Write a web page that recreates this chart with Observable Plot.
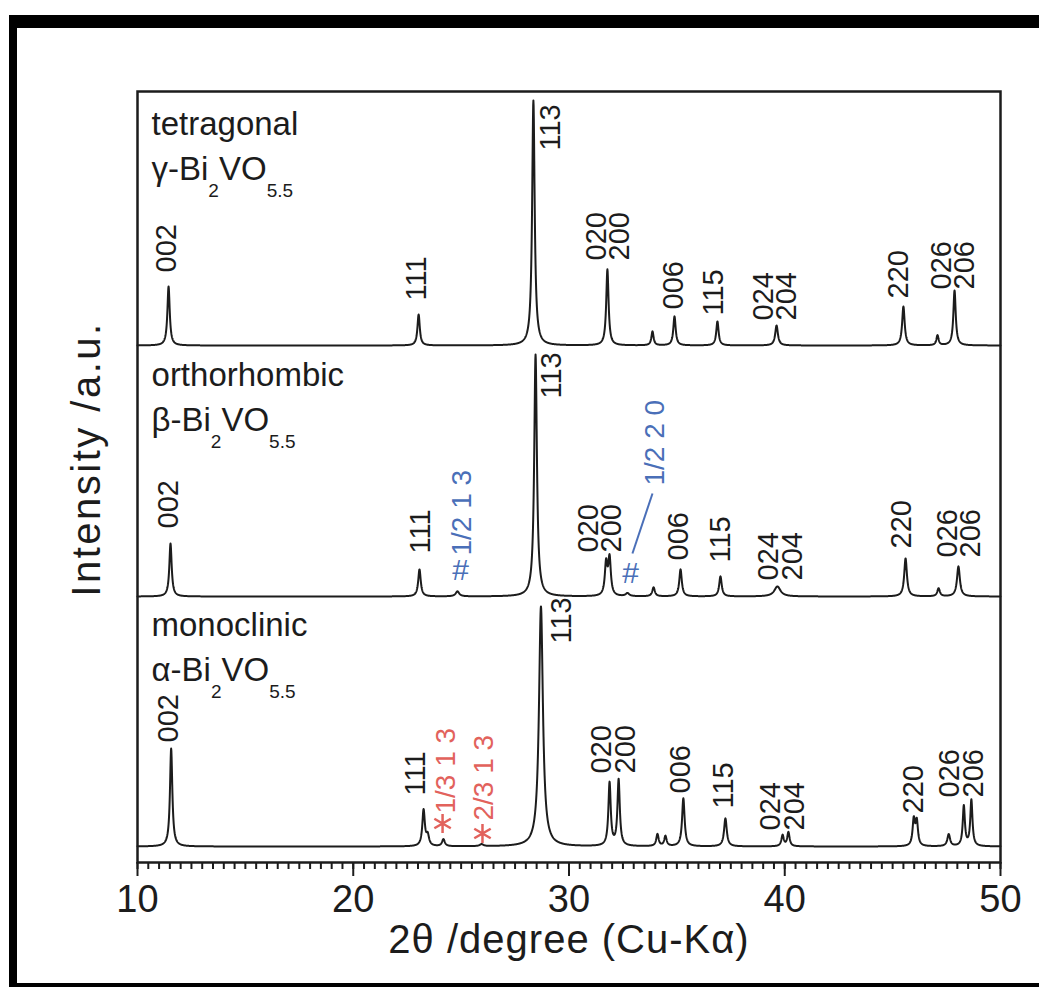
<!DOCTYPE html>
<html><head><meta charset="utf-8">
<script src="https://cdn.jsdelivr.net/npm/d3@7"></script>
<script src="https://cdn.jsdelivr.net/npm/@observablehq/plot@0.6"></script>
<style>
body{margin:0;background:#fff;}
#wrap{position:relative;width:1039px;height:987px;overflow:hidden;background:#fff;}
#border{position:absolute;left:9px;top:15px;width:1100px;height:972px;box-sizing:border-box;border-top:13px solid #000;border-left:8px solid #000;border-bottom:4px solid #000;pointer-events:none;}
#chart{position:absolute;left:0;top:0;}
</style></head><body>
<div id="wrap"><div id="chart"></div><div id="border"></div></div>
<script>
// ---- tick labels ----
const xMajorTicks = [10, 20, 30, 40, 50];
const xMinorTicks = d3.range(20, 101).map(i => i / 2);

// ---- phases ----
const phases = ["tetragonal", "orthorhombic", "monoclinic"];
const formulas = ["γ-Bi_2VO_5.5", "β-Bi_2VO_5.5", "α-Bi_2VO_5.5"];

// ---- peaks: position (2θ), intensity (a.u.), FWHM (deg) ----
const tetraPos = [11.44, 23.03, 28.35, 31.78, 33.87, 34.89, 36.88, 39.62, 45.50, 47.08, 47.87];
const tetraInt = [59, 31, 245, 76, 14, 29, 24, 20, 39, 10, 55];
const tetraWid = [0.13, 0.13, 0.14, 0.13, 0.12, 0.13, 0.13, 0.15, 0.14, 0.12, 0.13];

const orthoPos = [11.53, 23.07, 24.83, 28.45, 31.72, 31.88, 32.71, 33.92, 35.17, 37.02, 39.66, 45.60, 47.13, 48.05];
const orthoInt = [53, 27, 5, 242, 32, 37, 3, 9, 27, 20, 10, 38, 8, 30];
const orthoWid = [0.13, 0.14, 0.2, 0.15, 0.14, 0.14, 0.2, 0.14, 0.14, 0.14, 0.35, 0.15, 0.14, 0.16];

const monoPos = [11.56, 23.26, 23.45, 24.18, 25.95, 28.70, 31.88, 32.30, 34.10, 34.47, 35.30, 37.25, 39.90, 40.17, 45.98, 46.12, 47.60, 48.30, 48.65];
const monoInt = [98, 36, 10, 7, 2, 240, 63, 66, 12, 10, 48, 28, 11, 14, 26, 24, 12, 40, 46];
const monoWid = [0.13, 0.14, 0.15, 0.15, 0.2, 0.22, 0.13, 0.13, 0.13, 0.13, 0.14, 0.15, 0.13, 0.13, 0.13, 0.13, 0.15, 0.12, 0.12];

// ---- Miller index labels: text, 2θ, level above the trace baseline ----
const hklLabels = ["002", "111", "113", "020\n200", "006", "115", "024\n204", "220", "026\n206"];
const tetraLabelX = [11.44, 23.02, 29.24, 31.92, 34.94, 36.79, 39.66, 45.37, 47.91];
const tetraLabelY = [73, 45, 195, 85, 36, 30, 25, 47, 56];
const orthoLabelX = [11.53, 23.21, 29.28, 31.55, 35.17, 37.11, 39.90, 45.50, 48.19];
const orthoLabelY = [68, 43, 198, 44, 36, 34, 16, 48, 39];
const monoLabelX = [11.53, 22.98, 29.75, 32.16, 35.26, 37.25, 39.99, 46.06, 48.29];
const monoLabelY = [104, 51, 203, 73, 53, 38, 16, 33, 49];

// ---- superstructure annotations ----
const orthoNotes = ["1/2 1 3", "1/2 2 0"];
const orthoNoteX = [25.06, 34.0];
const orthoNoteY = [41, 111];
const orthoHashX = [24.97, 32.85];
const orthoHashY = [26, 23];
const orthoLeader = [{x1: 32.94, y1: 43, x2: 33.87, y2: 103}];

const monoNotes = ["1/3 1 3", "2/3 1 3"];
const monoNoteX = [24.28, 26.04];
const monoNoteY = [33, 26];
const monoStarX = [24.14, 25.99];
const monoStarY = [23, 13];

// ---- layout ----
const baselines = [517, 266, 16];
const nameLevel = 211, formulaLevel = 166, nameX = 10.65;
const ink = "#1c1c1c", blue = "#4a6fb8", red = "#e2625c";
const font = "'Liberation Sans', Arial, Helvetica, sans-serif";

function profile(pos, inten, wid, base, phase) {
  return d3.range(0, 4001).map(i => {
    const x = 10 + i / 100;
    let y = base;
    for (let k = 0; k < pos.length; k++) {
      const t = (x - pos[k]) / (wid[k] / 2);
      y += inten[k] / (1 + t * t);
    }
    return {phase, x, y};
  });
}
const traces = [
  ...profile(tetraPos, tetraInt, tetraWid, baselines[0], phases[0]),
  ...profile(orthoPos, orthoInt, orthoWid, baselines[1], phases[1]),
  ...profile(monoPos, monoInt, monoWid, baselines[2], phases[2])
];

const labelRows = [
  ...hklLabels.map((t, i) => ({t, x: tetraLabelX[i], y: baselines[0] + tetraLabelY[i]})),
  ...hklLabels.map((t, i) => ({t, x: orthoLabelX[i], y: baselines[1] + orthoLabelY[i]})),
  ...hklLabels.map((t, i) => ({t, x: monoLabelX[i], y: baselines[2] + monoLabelY[i]}))
];

const chart = Plot.plot({
  width: 1039,
  height: 987,
  marginLeft: 137,
  marginRight: 39,
  marginTop: 91,
  marginBottom: 125,
  style: {fontFamily: font, color: ink, background: "transparent"},
  x: {domain: [10, 50]},
  y: {domain: [0, 771], axis: null},
  marks: [
    Plot.line(traces, {x: "x", y: "y", z: "phase", stroke: ink, strokeWidth: 2}),
    Plot.text(labelRows, {x: "x", y: "y", text: "t", rotate: -90, textAnchor: "start", lineAnchor: "middle", lineHeight: 0.8, fontSize: 29, fill: ink}),
    Plot.text(phases, {x: () => nameX, y: (d, i) => baselines[i] + nameLevel, text: d => d, textAnchor: "start", lineAnchor: "bottom", fontSize: 33, fill: ink}),
    Plot.text(formulas, {x: () => nameX, y: (d, i) => baselines[i] + formulaLevel, text: d => d, textAnchor: "start", lineAnchor: "bottom", fontSize: 33, fill: ink}),
    // orthorhombic superstructure
    Plot.text(orthoHashX, {x: d => d, y: (d, i) => baselines[1] + orthoHashY[i], text: () => "#", fontSize: 30, fill: blue}),
    Plot.text(orthoNotes, {x: (d, i) => orthoNoteX[i], y: (d, i) => baselines[1] + orthoNoteY[i], text: d => d, rotate: -90, textAnchor: "start", fontSize: 28, fill: blue}),
    Plot.link(orthoLeader, {x1: "x1", x2: "x2", y1: d => baselines[1] + d.y1, y2: d => baselines[1] + d.y2, stroke: blue, strokeWidth: 2}),
    // monoclinic superstructure
    Plot.dot(monoStarX, {x: d => d, y: (d, i) => baselines[2] + monoStarY[i], symbol: "asterisk", r: 9, stroke: red, strokeWidth: 2.5}),
    Plot.text(monoNotes, {x: (d, i) => monoNoteX[i], y: (d, i) => baselines[2] + monoNoteY[i], text: d => d, rotate: -90, textAnchor: "start", fontSize: 28, fill: red}),
    // axes
    Plot.frame({stroke: ink, strokeWidth: 2.5}),
    Plot.axisX(xMinorTicks, {anchor: "bottom", tickSize: 7, tickFormat: () => "", strokeWidth: 2, label: null}),
    Plot.axisX(xMajorTicks, {anchor: "bottom", tickSize: 14, tickPadding: 9, fontSize: 38, strokeWidth: 2, label: null, tickFormat: d => String(d)}),
    Plot.text(["Intensity /a.u."], {frameAnchor: "left", rotate: -90, textAnchor: "middle", lineAnchor: "middle", dx: -50, dy: -18, fontSize: 40, fill: ink}),
    Plot.text(["2θ /degree (Cu-Kα)"], {frameAnchor: "bottom", textAnchor: "middle", lineAnchor: "bottom", dy: 90, fontSize: 40, fill: ink})
  ]
});

// subscripts and letter spacing
d3.select(chart).selectAll("text").each(function () {
  const s = this.textContent;
  if (s === "Intensity /a.u.") this.setAttribute("letter-spacing", "2.5");
  if (s === "2θ /degree (Cu-Kα)") this.setAttribute("letter-spacing", "1");
  if (!s.includes("_")) return;
  const parts = s.split(/_([0-9.]+)/);
  this.textContent = "";
  let shifted = false;
  parts.forEach((p, i) => {
    if (!p) return;
    const ts = document.createElementNS("http://www.w3.org/2000/svg", "tspan");
    ts.textContent = p;
    if (i % 2 === 1) {
      ts.setAttribute("font-size", "19");
      ts.setAttribute("dy", "17");
      shifted = true;
    } else if (shifted) {
      ts.setAttribute("dy", "-17");
      shifted = false;
    }
    this.appendChild(ts);
  });
});

document.getElementById("chart").appendChild(chart);
</script>
</body></html>
